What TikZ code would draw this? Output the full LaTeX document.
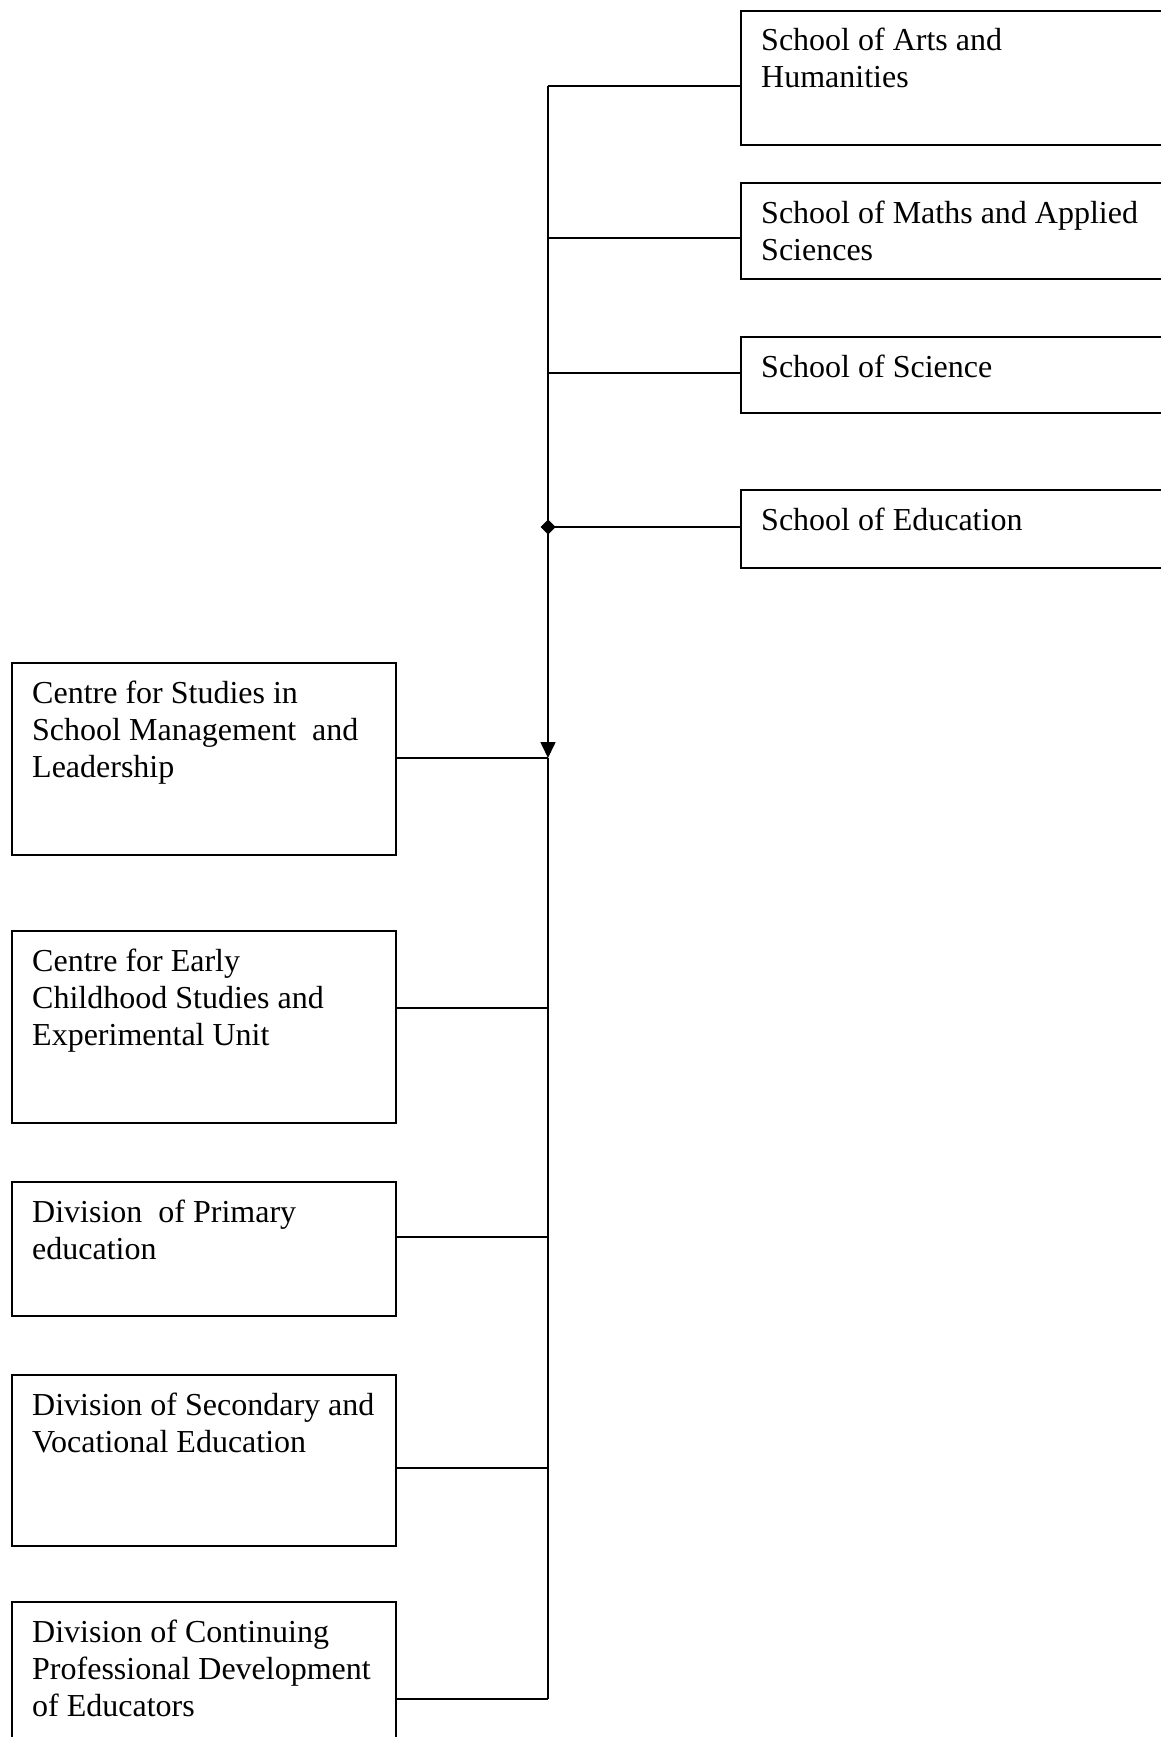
\documentclass[tikz,border=0pt]{standalone}
\usepackage{fontspec}
\setmainfont{Liberation Serif}
\usetikzlibrary{arrows.meta}
\tikzset{
  unitbox/.style={draw, line width=1.6pt, inner sep=0pt, anchor=north west},
  boxtext/.style={anchor=base west, inner sep=0pt, font=\fontsize{32}{37}\selectfont},
  link/.style={line width=1.6pt},
}
\newcommand{\orgbox}[6]{%
  \node[unitbox, minimum width=#4pt, minimum height=#5pt] (#1) at (#2,#3) {};
  \node[boxtext] (#1-t) at ([xshift=21pt,yshift=-41pt]#1.north west) {\parbox[t]{420pt}{\raggedright #6}};
}
\begin{document}
\begin{tikzpicture}[x=1pt,y=-1pt]
\useasboundingbox (0,0) rectangle (1161,1737);
\clip (0,0) rectangle (1161,1737);
% right column
\orgbox{arts}{740}{10}{480}{134}{School of Arts and\\Humanities}
\orgbox{maths}{740}{182}{480}{96}{School of Maths and Applied\\Sciences}
\orgbox{sci}{740}{336}{480}{76}{School of Science}
\orgbox{edu}{740}{489}{480}{78}{School of Education}
% left column
\orgbox{csm}{11}{662}{384}{192}{Centre for Studies in\\School Management\ \ and\\Leadership}
\orgbox{ecs}{11}{930}{384}{192}{Centre for Early\\Childhood Studies and\\Experimental Unit}
\orgbox{prim}{11}{1181}{384}{134}{Division\ \ of Primary\\education}
\orgbox{sec}{11}{1374}{384}{171}{Division of Secondary and\\Vocational Education}
\orgbox{cpd}{11}{1601}{384}{220}{Division of Continuing\\Professional Development\\of Educators}
% trunk junctions
\coordinate (jArts) at (548,86);
\coordinate (jMaths) at (548,238);
\coordinate (jSci) at (548,373);
\coordinate (jEdu) at (548,527);
\coordinate (jCsm) at (548,758);
\coordinate (jEcs) at (548,1008);
\coordinate (jPrim) at (548,1237);
\coordinate (jSec) at (548,1468);
\coordinate (jCpd) at (548,1699);
% trunk
\draw[link] (jArts) -- (jEdu);
\draw[link] (jCsm) -- (jCpd);
\draw[link, {Diamond[length=15pt,width=15pt]}-{Triangle[length=16pt,width=15pt]}] ([yshift=7.5pt]jEdu) -- (jCsm);
% branches
\draw[link] (jArts) -- (arts.west |- jArts);
\draw[link] (jMaths) -- (maths.west |- jMaths);
\draw[link] (jSci) -- (sci.west |- jSci);
\draw[link] (jEdu) -- (edu.west |- jEdu);
\draw[link] (csm.east |- jCsm) -- (jCsm);
\draw[link] (ecs.east |- jEcs) -- (jEcs);
\draw[link] (prim.east |- jPrim) -- (jPrim);
\draw[link] (sec.east |- jSec) -- (jSec);
\draw[link] (cpd.east |- jCpd) -- (jCpd);
\end{tikzpicture}
\end{document}
